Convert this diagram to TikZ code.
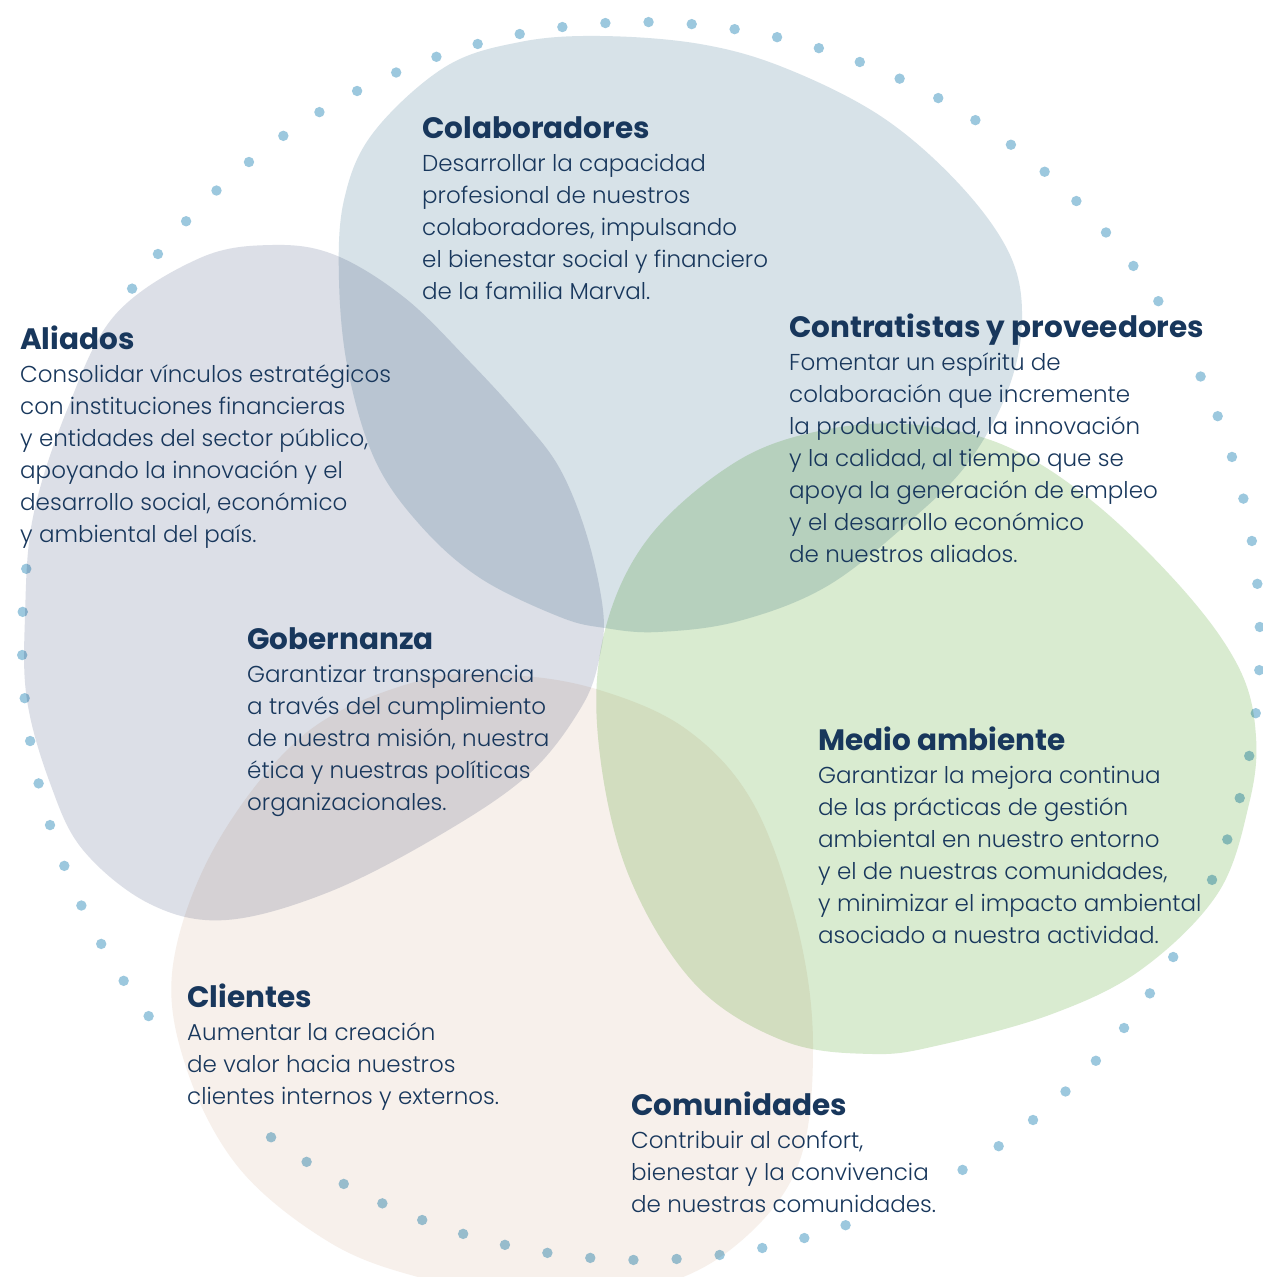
\documentclass[tikz,border=0pt]{standalone}
\usepackage{fontspec}
\setmainfont{Poppins Light}[BoldFont={Poppins Bold}]
\definecolor{navy}{HTML}{18375C}
\definecolor{dotblue}{HTML}{9CC8DE}
\definecolor{colabc}{HTML}{D7E2E8}
\definecolor{aliadoc}{HTML}{DCDFE7}
\definecolor{verdec}{HTML}{D9EBD0}
\definecolor{beigec}{HTML}{F7F0EB}
\tikzset{
blurb/.style={anchor=north west,inner sep=0pt,align=left,text=navy,font=\fontsize{23}{32}\selectfont},
blob/.style={smooth cycle,tension=0.6},
dotfill/.style={fill=dotblue}
}
\newcommand{\hd}[1]{{\fontsize{29.5}{33}\selectfont\bfseries #1}}

\begin{document}
\begin{tikzpicture}[x=1pt,y=-1pt]
\useasboundingbox (0,0) rectangle (1262,1277);
\fill[white] (0,0) rectangle (1262,1277);
\coordinate (ctr) at (641,641);
% dotted ring, gaps where the texts sit
\foreach \a/\b in {0/14,21/32,36/50,53/60,62/74,76/89}
  \foreach \k in {\a,...,\b}
    \fill[dotfill,shift={(ctr)}] ({619*cos(89.3+4*\k)},{-619*sin(89.3+4*\k)}) circle (5.2);
% blobs
\begin{scope}[blend mode=multiply]
\fill[colabc] plot[blob] coordinates {(344,200) (373,133) (445,67) (520,42) (600,36) (700,44) (785,68) (882,117) (960,185) (1010,255) (1022,320) (1008,390) (970,460) (918,514) (829,585) (739,621) (658,632) (605,628) (560,617) (480,578) (420,525) (375,460) (348,370) (339,280)};
\fill[aliadoc] plot[blob] coordinates {(200,258) (272,245) (335,255) (405,298) (470,362) (523,420) (560,469) (587,536) (603,610) (600,655) (582,706) (529,774) (440,835) (329,892) (226,920) (150,904) (83,850) (50,783) (27,700) (25,617) (33,517) (67,410) (115,315)};
\fill[verdec] plot[blob] coordinates {(605,630) (650,536) (739,460) (829,429) (918,425) (1008,447) (1097,505) (1187,594) (1240,670) (1256,737) (1249,804) (1218,893) (1142,969) (1052,1014) (940,1045) (873,1054) (784,1041) (694,983) (627,871) (598,737)};
\fill[beigec] plot[blob] coordinates {(507,675) (596,689) (686,729) (753,803) (797,925) (813,1046) (797,1168) (730,1250) (640,1290) (520,1295) (418,1277) (329,1242) (239,1168) (186,1067) (173,965) (217,843) (306,733) (418,681)};
\end{scope}
% texts
\node[blurb] (colab) at (422,116) {\hd{Colaboradores}\\[1pt]
Desarrollar la capacidad\\ profesional de nuestros\\ colaboradores, impulsando\\
el bienestar social y financiero\\ de la familia Marval.};
\node[blurb] (aliados) at (20,326) {\hd{Aliados}\\[1pt]
Consolidar vínculos estratégicos\\ con instituciones financieras\\ y entidades del sector público,\\
apoyando la innovación y el\\ desarrollo social, económico\\ y ambiental del país.};
\node[blurb] (contrat) at (789,314) {\hd{Contratistas y proveedores}\\[1pt]
Fomentar un espíritu de\\ colaboración que incremente\\ la productividad, la innovación\\
y la calidad, al tiempo que se\\ apoya la generación de empleo\\ y el desarrollo económico\\ de nuestros aliados.};
\node[blurb] (gober) at (247,627) {\hd{Gobernanza}\\[1pt]
Garantizar transparencia\\ a través del cumplimiento\\ de nuestra misión, nuestra\\
ética y nuestras políticas\\ organizacionales.};
\node[blurb] (medio) at (818,727) {\hd{Medio ambiente}\\[1pt]
Garantizar la mejora continua\\ de las prácticas de gestión\\ ambiental en nuestro entorno\\
y el de nuestras comunidades,\\ y minimizar el impacto ambiental\\ asociado a nuestra actividad.};
\node[blurb] (clientes) at (187,984) {\hd{Clientes}\\[1pt]
Aumentar la creación\\ de valor hacia nuestros\\ clientes internos y externos.};
\node[blurb] (comun) at (631,1092) {\hd{Comunidades}\\[1pt]
Contribuir al confort,\\ bienestar y la convivencia\\ de nuestras comunidades.};
\end{tikzpicture}
\end{document}
